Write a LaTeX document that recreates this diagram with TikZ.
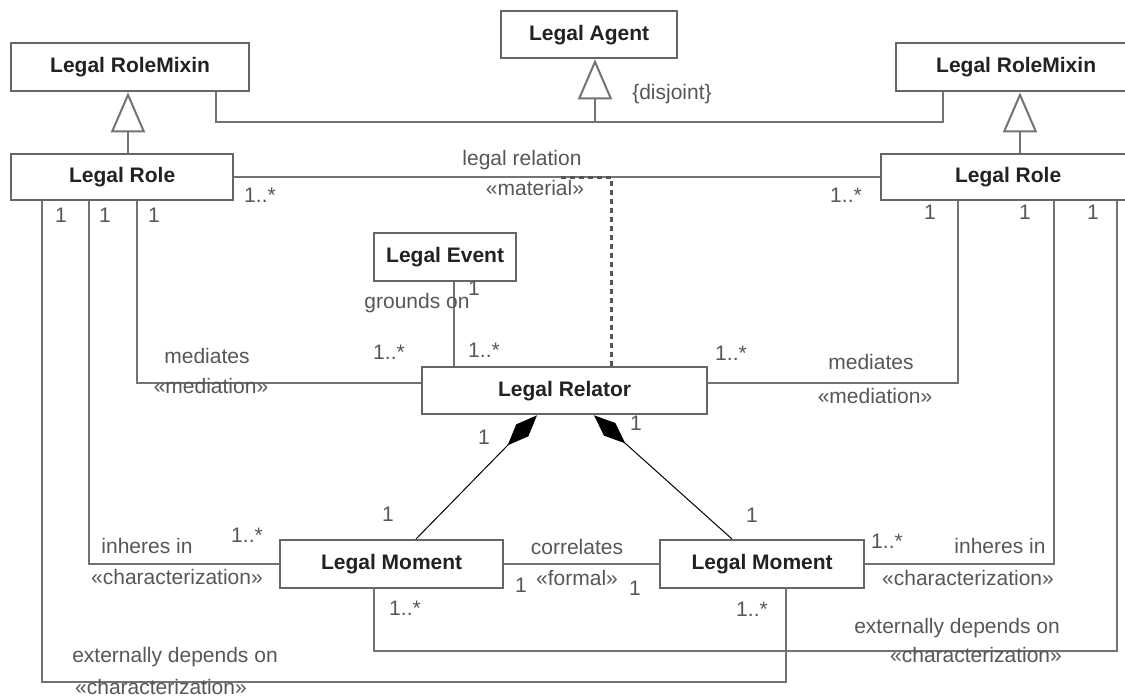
\documentclass[tikz,border=0pt]{standalone}
\usepackage{fontspec}
\setmainfont{Liberation Sans}
\usetikzlibrary{arrows.meta,calc}
\definecolor{boxc}{HTML}{666666}
\definecolor{linec}{HTML}{737373}
\definecolor{labc}{HTML}{575757}
\definecolor{titc}{HTML}{222222}
\definecolor{dashc}{HTML}{555555}
\newcommand\dfont{\fontsize{21}{25}\selectfont}
\tikzset{
  box/.style={draw=boxc, line width=2.3pt, fill=white, font=\bfseries\dfont, text=titc, inner sep=0pt, anchor=north west},
  lbl/.style={font=\dfont, text=labc, inner sep=0pt, text height=0.72em, text depth=0.18em},
  conn/.style={draw=linec, line width=2.3pt},
  gen/.style={conn, -{Triangle[open, length=40pt, width=34pt, line width=2pt]}},
  comp/.style={draw=black, line width=1pt, -{Diamond[length=42pt, width=17pt, fill=black]}},
  assocdash/.style={draw=dashc, line width=3pt, dash pattern=on 5pt off 4pt}
}
\begin{document}
\begin{tikzpicture}[x=1pt,y=-1pt]
\useasboundingbox (0,0) rectangle (1125,699);
\clip (0,0) rectangle (1125,699);
\fill[white] (0,0) rectangle (1125,699);

% boxes
\node[box, minimum width=238pt, minimum height=48pt] (rmL) at (10,42) {Legal RoleMixin};
\node[box, minimum width=176pt, minimum height=47pt] (agent) at (500,10) {Legal Agent};
\node[box, minimum width=240pt, minimum height=48pt] (rmR) at (895,42) {Legal RoleMixin};
\node[box, minimum width=222pt, minimum height=46pt] (roleL) at (10,153) {Legal Role};
\node[box, minimum width=254pt, minimum height=46pt] (roleR) at (880,153) {Legal Role};
\node[box, minimum width=142pt, minimum height=48pt] (event) at (373,232) {Legal Event};
\node[box, minimum width=285pt, minimum height=47pt] (relator) at (421,366) {Legal Relator};
\node[box, minimum width=223pt, minimum height=48pt] (momL) at (279,539) {Legal Moment};
\node[box, minimum width=204pt, minimum height=48pt] (momR) at (659,539) {Legal Moment};

% generalizations
\coordinate (dj) at (595,122);
\draw[gen] ([xshift=118]roleL.north west) -- ([xshift=118]rmL.south west);
\draw[gen] ([xshift=140]roleR.north west) -- ([xshift=125]rmR.south west);
\draw[conn] ([xshift=206]rmL.south west) |- (dj) -| ([xshift=48]rmR.south west);
\draw[gen] (dj) -- ([xshift=95]agent.south west);
\node[lbl] (tdis) at (672,97) {\{disjoint\}};

% legal relation
\draw[conn] (roleL.east) -- (roleR.west);
\draw[assocdash] ([xshift=190]relator.north west) |- ($(roleL.east)!0.5!(roleR.west)$);
\node[lbl] (tlr) at (522,163) {legal relation};
\node[lbl] (tmat) at (535,193) {«material»};
\node[lbl] (m1) at (260,200) {1..*};
\node[lbl] (m2) at (846,200) {1..*};

% connectors from the role boxes
\coordinate (e1) at (786,682);
\coordinate (e2) at (374,651);
\draw[conn] ([xshift=127]roleL.south west) |- ([yshift=7.5]relator.west);
\draw[conn] ([xshift=78]roleR.south west) |- ([yshift=7.5]relator.east);
\draw[conn] ([xshift=79]roleL.south west) |- (momL.west);
\draw[conn] ([xshift=174]roleR.south west) |- (momR.east);
\draw[conn] ([xshift=32]roleL.south west) |- (e1) -- ([xshift=127]momR.south west);
\draw[conn] ([xshift=237]roleR.south west) |- (e2) -- ([xshift=95]momL.south west);

% event
\draw[conn] ([xshift=81]event.south west) -- ([xshift=33]relator.north west);

% correlates
\draw[conn] (momL.east) -- (momR.west);

% compositions
\draw[comp] ([xshift=137]momL.north west) -- ([xshift=116]relator.south west);
\draw[comp] ([xshift=73]momR.north west) -- ([xshift=173]relator.south west);

% labels
\node[lbl] (a1) at (61,220) {1};
\node[lbl] (a2) at (105,220) {1};
\node[lbl] (a3) at (154,220) {1};
\node[lbl] (a4) at (930,217) {1};
\node[lbl] (a5) at (1025,217) {1};
\node[lbl] (a6) at (1093,217) {1};

\node[lbl] (g1) at (417,306) {grounds on};
\node[lbl] (g2) at (474,293) {1};
\node[lbl] (g3) at (484,355) {1..*};

\node[lbl] (md1) at (389,357) {1..*};
\node[lbl] (md2) at (207,361) {mediates};
\node[lbl] (md3) at (211,391) {«mediation»};
\node[lbl] (md4) at (731,358) {1..*};
\node[lbl] (md5) at (871,367) {mediates};
\node[lbl] (md6) at (875,401) {«mediation»};

\node[lbl] (c1) at (484,442) {1};
\node[lbl] (c2) at (636,428) {1};
\node[lbl] (c3) at (388,519) {1};
\node[lbl] (c4) at (752,520) {1};

\node[lbl] (i1) at (247,540) {1..*};
\node[lbl] (i2) at (147,551) {inheres in};
\node[lbl] (i3) at (177,582) {«characterization»};
\node[lbl] (i4) at (887,546) {1..*};
\node[lbl] (i5) at (1000,551) {inheres in};
\node[lbl] (i6) at (968,583) {«characterization»};

\node[lbl] (k1) at (577,552) {correlates};
\node[lbl] (k2) at (577,583) {«formal»};
\node[lbl] (k3) at (521,590) {1};
\node[lbl] (k4) at (635,593) {1};

\node[lbl] (x1) at (405,613) {1..*};
\node[lbl] (x2) at (752,614) {1..*};
\node[lbl] (x3) at (957,631) {externally depends on};
\node[lbl] (x4) at (976,660) {«characterization»};
\node[lbl] (x5) at (175,660) {externally depends on};
\node[lbl] (x6) at (161,692) {«characterization»};
\end{tikzpicture}
\end{document}
